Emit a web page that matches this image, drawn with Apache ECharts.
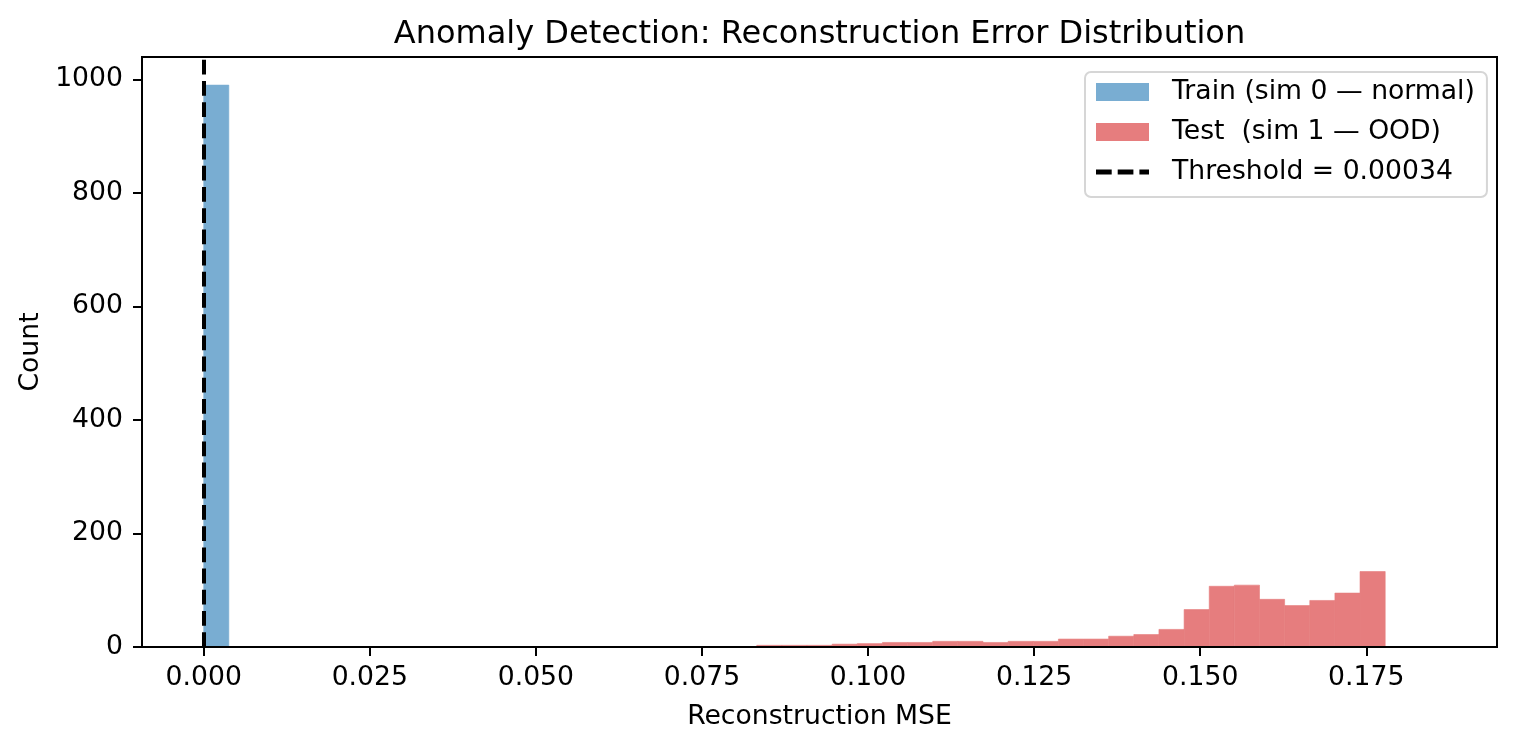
<!DOCTYPE html>
<html>
<head>
<meta charset="utf-8">
<script src="https://cdn.jsdelivr.net/npm/echarts@6/dist/echarts.min.js"></script>
<style>
  html, body { margin: 0; padding: 0; background: #fff; }
  #chart { width: 1516px; height: 748px; }
</style>
</head>
<body>
<div id="chart"></div>
<script>
// ---- Data ----
const TITLE = 'Anomaly Detection: Reconstruction Error Distribution';
const X_LABEL = 'Reconstruction MSE';
const Y_LABEL = 'Count';
const TRAIN_NAME = 'Train (sim 0 \u2014 normal)';
const TEST_NAME = 'Test  (sim 1 \u2014 OOD)';
const THRESHOLD = 0.00034;
const THRESHOLD_NAME = 'Threshold = 0.00034';

// histogram bins: left edges, right edges, counts
const trainBinLeft  = [0.00000];
const trainBinRight = [0.00378];
const trainCounts   = [990];

const testBinLeft = [0.08325, 0.08703, 0.09082, 0.09460, 0.09838, 0.10217, 0.10595, 0.10974,
                     0.11352, 0.11730, 0.12109, 0.12487, 0.12866, 0.13244, 0.13622, 0.14001,
                     0.14379, 0.14758, 0.15136, 0.15514, 0.15893, 0.16271, 0.16650, 0.17028, 0.17406];
const testBinRight = [0.08703, 0.09082, 0.09460, 0.09838, 0.10217, 0.10595, 0.10974, 0.11352,
                      0.11730, 0.12109, 0.12487, 0.12866, 0.13244, 0.13622, 0.14001, 0.14379,
                      0.14758, 0.15136, 0.15514, 0.15893, 0.16271, 0.16650, 0.17028, 0.17406, 0.17785];
const testCounts = [3, 3, 3, 5, 6, 8, 8, 10,
                    10, 8, 10, 10, 14, 14, 19, 22,
                    31, 66, 107, 109, 84, 73, 82, 95, 133];

const xTicks = [0, 0.025, 0.05, 0.075, 0.1, 0.125, 0.15, 0.175];
const yTicks = [0, 200, 400, 600, 800, 1000];
const X_MIN = -0.00929, X_MAX = 0.19468;
const Y_MIN = 0, Y_MAX = 1039.5;

// ---- Styles ----
const FONT = 'DejaVu Sans';
const FS = 26.67;
const TRAIN_COLOR = '#79add2';
const TEST_COLOR = '#e67d7e';

function toRows(lefts, rights, counts) {
  return lefts.map((l, i) => [l, rights[i], counts[i]]);
}

function histRender(color) {
  return function (params, api) {
    const p0 = api.coord([api.value(0), api.value(2)]);
    const p1 = api.coord([api.value(1), 0]);
    return {
      type: 'rect',
      shape: { x: p0[0], y: p0[1], width: p1[0] - p0[0], height: p1[1] - p0[1] },
      style: { fill: color, stroke: color, lineWidth: 0.6 }
    };
  };
}

const chart = echarts.init(document.getElementById('chart'), null, { renderer: 'canvas' });

const dashIcon = 'path://M0,0M53,18M0,6.6h15.7v4.8h-15.7zM21.7,6.6h15.7v4.8h-15.7zM43.4,6.6h9.6v4.8h-9.6z';

chart.setOption({
  animation: false,
  backgroundColor: '#fff',
  textStyle: { fontFamily: FONT },
  title: {
    text: TITLE,
    left: 819.5,
    top: 19,
    textAlign: 'center',
    padding: 0,
    textStyle: { fontFamily: FONT, fontSize: 32, fontWeight: 'normal', color: '#000' }
  },
  grid: {
    left: 142, top: 57, width: 1355, height: 590,
    show: true, borderColor: '#000', borderWidth: 2, backgroundColor: 'transparent',
    containLabel: false
  },
  legend: {
    orient: 'vertical',
    left: 1085,
    top: 72,
    padding: [5, 12, 10, 11],
    itemGap: 10,
    itemWidth: 53,
    itemHeight: 18,
    selectedMode: false,
    backgroundColor: 'rgba(255,255,255,0.8)',
    borderColor: '#d6d6d6',
    borderWidth: 2,
    borderRadius: 6,
    textStyle: { fontFamily: FONT, fontSize: FS, color: '#000', lineHeight: 30, padding: [0, 0, 0, 18] },
    data: [
      { name: TRAIN_NAME, icon: 'rect' },
      { name: TEST_NAME, icon: 'rect' },
      { name: THRESHOLD_NAME, icon: dashIcon }
    ]
  },
  xAxis: {
    type: 'value',
    min: X_MIN, max: X_MAX,
    z: 10,
    name: X_LABEL,
    nameLocation: 'middle',
    nameGap: 57,
    nameTextStyle: { fontFamily: FONT, fontSize: FS, color: '#000' },
    axisLine: { show: true, onZero: false, lineStyle: { color: '#000', width: 2 } },
    axisTick: { show: true, inside: false, length: 9, lineStyle: { color: '#000', width: 2 }, customValues: xTicks },
    axisLabel: {
      show: true, margin: 18, fontFamily: FONT, fontSize: FS, color: '#000',
      customValues: xTicks,
      formatter: v => Number(v).toFixed(3)
    },
    splitLine: { show: false }
  },
  yAxis: {
    type: 'value',
    min: Y_MIN, max: Y_MAX,
    z: 10,
    name: Y_LABEL,
    nameLocation: 'middle',
    nameGap: 93,
    nameRotate: 90,
    nameTextStyle: { fontFamily: FONT, fontSize: FS, color: '#000' },
    axisLine: { show: true, onZero: false, lineStyle: { color: '#000', width: 2 } },
    axisTick: { show: true, inside: false, length: 9, lineStyle: { color: '#000', width: 2 }, customValues: yTicks },
    axisLabel: {
      show: true, margin: 19, fontFamily: FONT, fontSize: FS, color: '#000',
      padding: [3, 0, 0, 0],
      customValues: yTicks,
      formatter: v => String(Math.round(v))
    },
    splitLine: { show: false }
  },
  series: [
    {
      name: TRAIN_NAME,
      type: 'custom',
      renderItem: histRender(TRAIN_COLOR),
      itemStyle: { color: TRAIN_COLOR },
      encode: { x: [0, 1], y: 2 },
      data: toRows(trainBinLeft, trainBinRight, trainCounts),
      z: 2,
      silent: true
    },
    {
      name: TEST_NAME,
      type: 'custom',
      renderItem: histRender(TEST_COLOR),
      itemStyle: { color: TEST_COLOR },
      encode: { x: [0, 1], y: 2 },
      data: toRows(testBinLeft, testBinRight, testCounts),
      z: 2,
      silent: true
    },
    {
      name: THRESHOLD_NAME,
      type: 'line',
      data: [],
      itemStyle: { color: '#000' },
      lineStyle: { color: '#000' },
      z: 5,
      markLine: {
        silent: true,
        symbol: ['none', 'none'],
        label: { show: false },
        emphasis: { disabled: true },
        lineStyle: { color: '#000', width: 4, type: [14.8, 6.4], cap: 'butt' },
        data: [{ xAxis: THRESHOLD }]
      }
    }
  ]
});
</script>
</body>
</html>
